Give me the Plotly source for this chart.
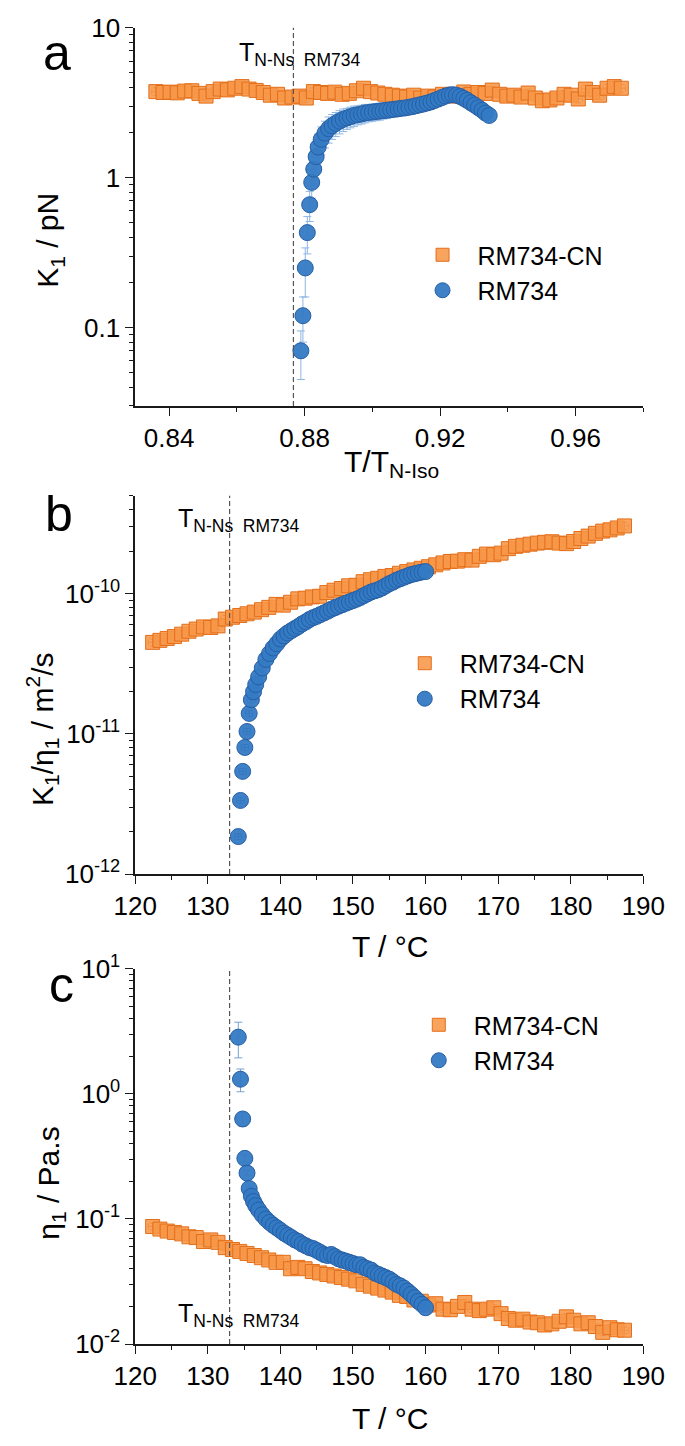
import math
import plotly.graph_objects as go

# ---------------- data ----------------
# RM734-CN : temperatures (deg C), reduced temperatures, K1 (pN), K1/eta1 (1e-11 m^2/s), eta1 (Pa.s)
T_CN = [122.4, 123.4, 124.4, 125.4, 126.4, 127.4, 128.4, 129.4, 130.4, 131.4, 132.4,
        133.4, 134.4, 135.4, 136.4, 137.4, 138.4, 139.4, 140.4, 141.4, 142.4, 143.4,
        144.4, 145.4, 146.4, 147.4, 148.4, 149.4, 150.4, 151.4, 152.4, 153.4, 154.4,
        155.4, 156.4, 157.4, 158.4, 159.4, 160.4, 161.4, 162.4, 163.4, 164.4, 165.4,
        166.4, 167.4, 168.4, 169.4, 170.4, 171.4, 172.4, 173.4, 174.4, 175.4, 176.4,
        177.4, 178.4, 179.4, 180.4, 181.4, 182.4, 183.4, 184.4, 185.4, 186.4, 187.4]
TRED_CN = [0.8361, 0.8382, 0.8403, 0.8424, 0.8446, 0.8467, 0.8488, 0.8509, 0.8530, 0.8551, 0.8572,
           0.8594, 0.8615, 0.8636, 0.8657, 0.8678, 0.8699, 0.8720, 0.8741, 0.8763, 0.8784, 0.8805,
           0.8826, 0.8847, 0.8868, 0.8889, 0.8911, 0.8932, 0.8953, 0.8974, 0.8995, 0.9016, 0.9037,
           0.9059, 0.9080, 0.9101, 0.9122, 0.9143, 0.9164, 0.9185, 0.9207, 0.9228, 0.9249, 0.9270,
           0.9291, 0.9312, 0.9333, 0.9354, 0.9376, 0.9397, 0.9418, 0.9439, 0.9460, 0.9481, 0.9502,
           0.9524, 0.9545, 0.9566, 0.9587, 0.9608, 0.9629, 0.9650, 0.9671, 0.9693, 0.9714, 0.9735]
K1_CN = [3.75, 3.70, 3.72, 3.68, 3.78, 3.80, 3.65, 3.50, 3.75, 3.90, 3.85,
         3.95, 4.05, 3.90, 3.82, 3.70, 3.55, 3.60, 3.40, 3.45, 3.50, 3.40,
         3.75, 3.70, 3.65, 3.72, 3.60, 3.65, 3.80, 3.95, 3.75, 3.67, 3.60,
         3.55, 3.50, 3.45, 3.55, 3.40, 3.50, 3.45, 3.60, 3.55, 3.50, 3.73,
         3.60, 3.70, 3.65, 3.84, 3.60, 3.50, 3.55, 3.45, 3.67, 3.40, 3.26,
         3.30, 3.40, 3.60, 3.55, 3.35, 3.90, 3.70, 3.55, 3.95, 4.05, 3.95]
K1ETA_CN = [4.50, 4.65, 4.80, 4.95, 5.15, 5.40, 5.60, 5.80, 5.75, 5.90, 6.60,
            6.80, 7.00, 7.20, 7.40, 7.70, 8.00, 8.40, 8.30, 8.70, 9.20, 9.30,
            9.50, 9.60, 10.2, 10.6, 10.9, 11.4, 11.5, 12.2, 12.6, 12.9, 13.3,
            13.5, 14.0, 14.4, 14.8, 15.2, 15.6, 16.1, 16.6, 17.0, 17.1, 17.5,
            17.4, 18.5, 19.2, 19.0, 19.5, 21.0, 21.8, 22.2, 22.6, 23.0, 23.3,
            23.5, 23.0, 22.8, 23.6, 24.8, 25.8, 27.0, 28.0, 28.6, 29.5, 30.5]
ETA_CN = [0.087, 0.083, 0.080, 0.078, 0.076, 0.072, 0.071, 0.066, 0.068, 0.065, 0.059,
          0.057, 0.055, 0.053, 0.051, 0.049, 0.047, 0.045, 0.045, 0.040, 0.041, 0.040,
          0.038, 0.037, 0.036, 0.035, 0.034, 0.033, 0.032, 0.030, 0.029, 0.028, 0.027,
          0.026, 0.0245, 0.024, 0.0225, 0.022, 0.0205, 0.021, 0.019, 0.0188, 0.020, 0.0215,
          0.019, 0.0185, 0.019, 0.0195, 0.0175, 0.016, 0.0155, 0.0158, 0.015, 0.0148, 0.0142,
          0.0145, 0.0152, 0.0165, 0.0155, 0.0145, 0.0148, 0.0138, 0.0124, 0.0135, 0.0130, 0.0129]

# RM734
T_RM = [134.2, 134.5, 134.8, 135.1, 135.4, 135.7, 136.0, 136.3, 136.6, 137.0,
        137.5, 138.0, 138.5, 139.0, 139.5, 140.0, 140.5, 141.0, 141.5, 142.0,
        142.5, 143.0, 143.5, 144.0, 144.5, 145.0, 145.5, 146.0, 146.5, 147.0,
        147.5, 148.0, 148.5, 149.0, 149.5, 150.0, 150.5, 151.0, 151.5, 152.0,
        152.5, 153.0, 153.5, 154.0, 154.5, 155.0, 155.5, 156.0, 156.5, 157.0,
        157.5, 158.0, 158.5, 159.0, 159.5, 160.0]
TRED_RM = [0.8789, 0.8795, 0.8802, 0.8808, 0.8815, 0.8821, 0.8827, 0.8834, 0.8840, 0.8849,
           0.8860, 0.8871, 0.8881, 0.8892, 0.8903, 0.8914, 0.8925, 0.8935, 0.8946, 0.8957,
           0.8968, 0.8978, 0.8989, 0.9000, 0.9011, 0.9022, 0.9032, 0.9043, 0.9054, 0.9065,
           0.9076, 0.9086, 0.9097, 0.9108, 0.9119, 0.9129, 0.9140, 0.9151, 0.9162, 0.9173,
           0.9183, 0.9194, 0.9205, 0.9216, 0.9227, 0.9237, 0.9248, 0.9259, 0.9270, 0.9280,
           0.9291, 0.9302, 0.9313, 0.9324, 0.9334, 0.9345]
K1_RM = [0.070, 0.120, 0.250, 0.430, 0.660, 0.930, 1.14, 1.38, 1.60, 1.80,
         1.98, 2.12, 2.22, 2.30, 2.38, 2.45, 2.50, 2.55, 2.60, 2.63,
         2.66, 2.70, 2.72, 2.74, 2.76, 2.78, 2.80, 2.82, 2.84, 2.86,
         2.88, 2.90, 2.92, 2.95, 2.98, 3.02, 3.06, 3.10, 3.15, 3.20,
         3.27, 3.34, 3.42, 3.50, 3.56, 3.58, 3.55, 3.48, 3.38, 3.28,
         3.16, 3.05, 2.93, 2.82, 2.70, 2.60]
K1_RM_ERR = [0.025, 0.040, 0.090, 0.120, 0.150, 0.200, 0.250, 0.300, 0.350, 0.380,
             0.400, 0.420, 0.420, 0.420, 0.420, 0.420, 0.400, 0.400, 0.400, 0.380,
             0.380, 0.380, 0.360, 0.360, 0.360, 0.360, 0.340, 0.340, 0.320, 0.320,
             0.300, 0.300, 0.280, 0.280, 0.260, 0.260, 0.250, 0.250, 0.240, 0.240,
             0.220, 0.220, 0.220, 0.220, 0.200, 0.200, 0.200, 0.200, 0.200, 0.200,
             0.200, 0.200, 0.200, 0.200, 0.200, 0.200]
K1ETA_RM = [0.185, 0.335, 0.54, 0.80, 1.04, 1.40, 1.75, 2.00, 2.25, 2.55,
            2.95, 3.40, 3.75, 4.10, 4.40, 4.75, 5.00, 5.25, 5.45, 5.65,
            5.85, 6.10, 6.30, 6.55, 6.75, 6.90, 7.10, 7.30, 7.50, 7.75,
            7.95, 8.15, 8.35, 8.55, 8.75, 8.95, 9.15, 9.40, 9.70, 10.0,
            10.3, 10.5, 10.7, 11.0, 11.4, 11.8, 12.1, 12.5, 12.8, 13.1,
            13.4, 13.7, 13.9, 14.1, 14.3, 14.4]
ETA_RM = [2.84, 1.31, 0.63, 0.305, 0.233, 0.175, 0.152, 0.138, 0.128, 0.118,
          0.108, 0.100, 0.094, 0.089, 0.085, 0.081, 0.077, 0.074, 0.071, 0.068,
          0.066, 0.063, 0.061, 0.059, 0.058, 0.056, 0.054, 0.052, 0.051, 0.052,
          0.050, 0.048, 0.047, 0.046, 0.045, 0.044, 0.043, 0.043, 0.041, 0.040,
          0.039, 0.037, 0.036, 0.035, 0.034, 0.033, 0.0315, 0.030, 0.0292, 0.028,
          0.0265, 0.025, 0.0235, 0.022, 0.0208, 0.0195]
ETA_RM_ERR = [0.90, 0.27, 0.08, 0.020, 0.012, 0.008, 0.006, 0.005, 0.005, 0.004,
              0.004, 0.003, 0.003, 0.003, 0.003, 0.003, 0.003, 0.003, 0.003, 0.003,
              0.002, 0.002, 0.002, 0.002, 0.002, 0.002, 0.002, 0.002, 0.002, 0.002,
              0.002, 0.002, 0.002, 0.002, 0.002, 0.002, 0.002, 0.002, 0.002, 0.002,
              0.001, 0.001, 0.001, 0.001, 0.001, 0.001, 0.001, 0.001, 0.001, 0.001,
              0.001, 0.001, 0.001, 0.001, 0.001, 0.001]

TRED_NNS = 0.8767      # T_N-Ns of RM734 in reduced units
T_NNS = 133.0          # T_N-Ns of RM734 in deg C

SERIES_NAMES = ["RM734-CN", "RM734"]

# ---------------- styling ----------------
FONT = "Liberation Sans, Arial, sans-serif"
W, H = 685, 1446
OR_FILL = "rgba(247,150,72,0.88)"
OR_LINE = "rgb(228,110,25)"
OR_ERR = "rgb(215,100,20)"
BL_FILL = "rgba(52,122,196,0.95)"
BL_LINE = "rgb(38,95,165)"
BL_ERR = "rgb(140,182,228)"
AX_COL = "#1a1a1a"


def px(x):
    return x / W


def py(y):
    return 1 - y / H


XDOM = [px(121), px(664)]
DOMS = {"a": [py(397), py(10)], "b": [py(876), py(489)], "c": [py(1357), py(973)]}


def logminor(e0, e1):
    return [m * 10 ** e for e in range(e0, e1) for m in range(2, 10)]


fig = go.Figure()

sq = dict(symbol="square", size=14, color=OR_FILL, line=dict(color=OR_LINE, width=1))
ci = dict(symbol="circle", size=16, color=BL_FILL, line=dict(color=BL_LINE, width=1))
sq_leg = dict(sq, size=13)
ci_leg = dict(ci, size=15)

# ---- panel a ----
fig.add_trace(go.Scatter(x=TRED_CN, y=K1_CN, mode="markers", marker=sq, showlegend=False,
                         error_y=dict(type="percent", value=6, color=OR_ERR, thickness=1, width=3),
                         error_x=dict(type="constant", value=0.0012, color=OR_ERR, thickness=1, width=3),
                         xaxis="x", yaxis="y"))
fig.add_trace(go.Scatter(x=TRED_RM, y=K1_RM, mode="markers", marker=ci, showlegend=False,
                         error_y=dict(type="data", array=K1_RM_ERR, color=BL_ERR, thickness=1, width=4),
                         xaxis="x", yaxis="y"))
# ---- panel b ----
fig.add_trace(go.Scatter(x=T_CN, y=[v * 1e-11 for v in K1ETA_CN], mode="markers", marker=sq, showlegend=False,
                         error_y=dict(type="percent", value=6, color=OR_ERR, thickness=1, width=3),
                         error_x=dict(type="constant", value=0.6, color=OR_ERR, thickness=1, width=3),
                         xaxis="x2", yaxis="y2"))
fig.add_trace(go.Scatter(x=T_RM, y=[v * 1e-11 for v in K1ETA_RM], mode="markers", marker=ci, showlegend=False,
                         error_y=dict(type="percent", value=5, color="rgb(40,70,120)", thickness=1, width=3),
                         error_x=dict(type="constant", value=0.5, color="rgb(40,70,120)", thickness=1, width=3),
                         xaxis="x2", yaxis="y2"))
# ---- panel c ----
fig.add_trace(go.Scatter(x=T_CN, y=ETA_CN, mode="markers", marker=sq, showlegend=False,
                         error_y=dict(type="percent", value=6, color=OR_ERR, thickness=1, width=3),
                         error_x=dict(type="constant", value=0.6, color=OR_ERR, thickness=1, width=3),
                         xaxis="x3", yaxis="y3"))
fig.add_trace(go.Scatter(x=T_RM, y=ETA_RM, mode="markers", marker=ci, showlegend=False,
                         error_y=dict(type="data", array=ETA_RM_ERR, color="rgb(120,160,210)", thickness=1, width=4),
                         xaxis="x3", yaxis="y3"))

# legend entries (markers only)
for lg, xa, ya in [("legend", "x", "y"), ("legend2", "x2", "y2"), ("legend3", "x3", "y3")]:
    fig.add_trace(go.Scatter(x=[None], y=[None], mode="markers", marker=sq_leg, name=SERIES_NAMES[0],
                             legend=lg, xaxis=xa, yaxis=ya))
    fig.add_trace(go.Scatter(x=[None], y=[None], mode="markers", marker=ci_leg, name=SERIES_NAMES[1],
                             legend=lg, xaxis=xa, yaxis=ya))

tickfont = dict(family=FONT, size=26, color="black")
base = dict(showline=True, linecolor=AX_COL, linewidth=1.6, showgrid=False, zeroline=False,
            tickcolor=AX_COL, tickwidth=1.4, ticklen=8, tickfont=tickfont, ticklabeloverflow="allow")


def xax(anchor, rng, dtick, tick0, minor_dtick, fmt, side="bottom", overlay=None):
    d = dict(base, domain=XDOM, anchor=anchor, range=rng, dtick=dtick, tick0=tick0, tickformat=fmt,
             minor=dict(dtick=minor_dtick, tick0=tick0, ticklen=4, tickwidth=1.2, tickcolor=AX_COL,
                        ticks="outside" if overlay is None else "inside", showgrid=False),
             ticks="outside" if overlay is None else "inside", side=side)
    if overlay:
        d.update(overlaying=overlay, showticklabels=False)
    return d


def yax(anchor, dom, rng, tvals, ttext, mvals, side="left", overlay=None):
    d = dict(base, domain=dom, anchor=anchor, type="log", range=rng, tickmode="array",
             tickvals=tvals, ticktext=ttext,
             minor=dict(tickmode="array", tickvals=mvals, ticklen=4, tickwidth=1.2, tickcolor=AX_COL,
                        ticks="outside" if overlay is None else "inside", showgrid=False),
             ticks="outside" if overlay is None else "inside", side=side)
    if overlay:
        d.update(overlaying=overlay, showticklabels=False)
    return d


ya_vals = [0.1, 1, 10]
ya_text = ["0.1", "1", "10"]
yb_vals = [1e-12, 1e-11, 1e-10]
yb_text = ["10<sup>-12</sup>", "10<sup>-11</sup>", "10<sup>-10</sup>"]
yc_vals = [0.01, 0.1, 1, 10]
yc_text = ["10<sup>-2</sup>", "10<sup>-1</sup>", "10<sup>0</sup>", "10<sup>1</sup>"]

RA = [math.log10(0.03), 1]
RB = [-12, math.log10(5e-10)]
RC = [-2, 1]

fig.update_layout(
    xaxis=xax("y", [0.83, 0.98], 0.04, 0.84, 0.02, ".2f"),
    yaxis=yax("x", DOMS["a"], RA, ya_vals, ya_text, logminor(-2, 1)),
    xaxis2=xax("y2", [120, 190], 10, 120, 5, "d"),
    yaxis2=yax("x2", DOMS["b"], RB, yb_vals, yb_text, logminor(-12, -9)),
    xaxis3=xax("y3", [120, 190], 10, 120, 5, "d"),
    yaxis3=yax("x3", DOMS["c"], RC, yc_vals, yc_text, logminor(-2, 1)),
    xaxis4=xax("y", [0.83, 0.98], 0.04, 0.84, 0.02, ".2f", side="top", overlay="x"),
    yaxis4=yax("x", DOMS["a"], RA, ya_vals, ya_text, logminor(-2, 1), side="right", overlay="y"),
    xaxis5=xax("y2", [120, 190], 10, 120, 5, "d", side="top", overlay="x2"),
    yaxis5=yax("x2", DOMS["b"], RB, yb_vals, yb_text, logminor(-12, -9), side="right", overlay="y2"),
    xaxis6=xax("y3", [120, 190], 10, 120, 5, "d", side="top", overlay="x3"),
    yaxis6=yax("x3", DOMS["c"], RC, yc_vals, yc_text, logminor(-2, 1), side="right", overlay="y3"),
)

dash = dict(color="#555555", width=1.2, dash="5px,3px")
fig.update_layout(shapes=[
    dict(type="line", xref="x", yref="y domain", x0=TRED_NNS, x1=TRED_NNS, y0=0, y1=1, line=dash),
    dict(type="line", xref="x2", yref="y2 domain", x0=T_NNS, x1=T_NNS, y0=0, y1=1, line=dash),
    dict(type="line", xref="x3", yref="y3 domain", x0=T_NNS, x1=T_NNS, y0=0, y1=1, line=dash),
])

leg = dict(font=dict(family=FONT, size=25, color="black"), bgcolor="rgba(0,0,0,0)",
           xanchor="left", yanchor="top", itemwidth=60, tracegroupgap=0)
fig.update_layout(
    legend=dict(leg, x=px(412), y=py(219)),
    legend2=dict(leg, x=px(393), y=py(637)),
    legend3=dict(leg, x=px(408), y=py(1007)),
)

ann = []


def A(x, y, text, size, angle=0, xanchor="center", yanchor="middle"):
    ann.append(dict(x=px(x), y=py(y), xref="paper", yref="paper", text=text, showarrow=False,
                    textangle=angle, xanchor=xanchor, yanchor=yanchor,
                    font=dict(family=FONT, size=size, color="black")))


# panel letters
A(37, 36, "a", 50)
A(40, 508, "b", 50)
A(42, 990, "c", 50)
# axis titles
A(30, 228, "K<sub>1</sub> / pN", 30, angle=-90)
A(22, 728, "K<sub>1</sub>/η<sub>1</sub> / m<sup>2</sup>/s", 30, angle=-90)
A(31, 1193, "η<sub>1</sub> / Pa.s", 30, angle=-90)
A(395, 456, "T/T<sub>N-Iso</sub>", 30)
A(393, 950, "T / °C", 30)
A(393, 1433, "T / °C", 30)
# transition labels
A(230, 37, "T<sub>N-Ns  RM734</sub>", 25, xanchor="left")
A(165, 514, "T<sub>N-Ns  RM734</sub>", 25, xanchor="left")
A(165, 1327, "T<sub>N-Ns  RM734</sub>", 25, xanchor="left")
fig.update_layout(annotations=ann)

fig.update_layout(width=W, height=H, margin=dict(l=0, r=0, t=0, b=0),
                  paper_bgcolor="white", plot_bgcolor="white",
                  font=dict(family=FONT, color="black"))

fig.write_html("out.html", config={"displayModeBar": False},
               post_script="document.body.style.margin='0px';document.body.style.overflow='hidden';")
